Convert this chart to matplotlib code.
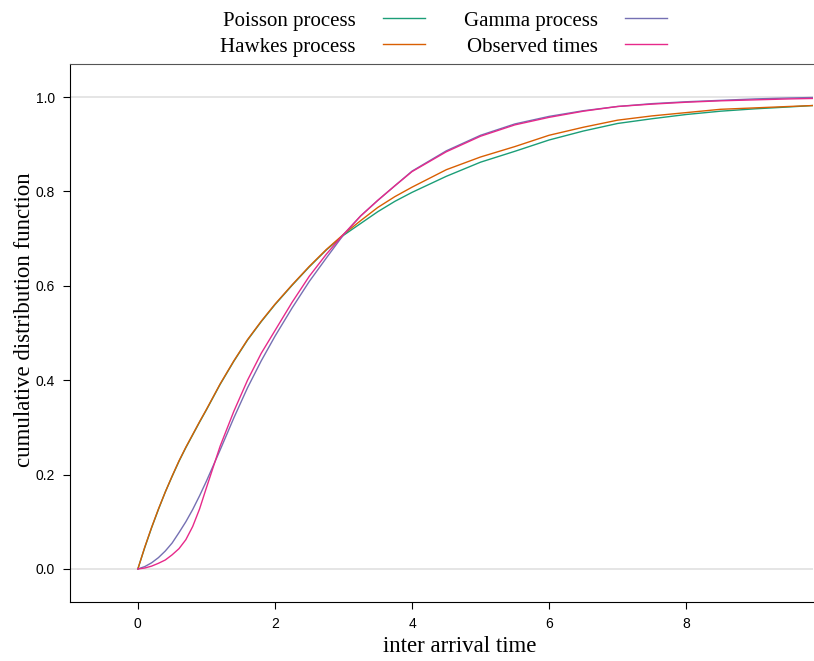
"""ECDF of inter arrival times: fitted processes vs observed times."""

import matplotlib

matplotlib.use("Agg")
import matplotlib.pyplot as plt

# inter arrival time grid
x_grid = [0, 0.1, 0.2, 0.3, 0.4, 0.5, 0.6, 0.7, 0.8, 0.9, 1.0, 1.2, 1.4, 1.6, 1.8,
          2.0, 2.25, 2.5, 2.75, 3.0, 3.25, 3.5, 3.75, 4.0, 4.5, 5.0, 5.5, 6.0, 6.5,
          7.0, 7.5, 8.0, 8.5, 9.0, 9.5, 9.85]

poisson_cdf = [0.0, 0.045, 0.087, 0.126, 0.163, 0.196, 0.228, 0.257, 0.284, 0.311,
               0.337, 0.391, 0.440, 0.485, 0.524, 0.560, 0.601, 0.640, 0.676, 0.707,
               0.732, 0.757, 0.779, 0.798, 0.832, 0.862, 0.885, 0.909, 0.928, 0.944,
               0.954, 0.963, 0.970, 0.975, 0.979, 0.982]
hawkes_cdf = [0.0, 0.046, 0.088, 0.127, 0.163, 0.197, 0.229, 0.258, 0.285, 0.312,
              0.338, 0.392, 0.441, 0.486, 0.525, 0.561, 0.602, 0.641, 0.677, 0.709,
              0.738, 0.766, 0.789, 0.809, 0.846, 0.873, 0.895, 0.919, 0.936, 0.951,
              0.960, 0.967, 0.974, 0.977, 0.980, 0.982]
gamma_cdf = [0.0, 0.005, 0.013, 0.024, 0.038, 0.055, 0.077, 0.100, 0.126, 0.155,
             0.186, 0.252, 0.320, 0.384, 0.441, 0.493, 0.553, 0.609, 0.659, 0.708,
             0.748, 0.781, 0.812, 0.843, 0.886, 0.919, 0.943, 0.959, 0.971, 0.980,
             0.986, 0.990, 0.993, 0.996, 0.998, 0.999]
observed_cdf = [0.0, 0.002, 0.006, 0.012, 0.019, 0.030, 0.043, 0.062, 0.090, 0.127,
                0.172, 0.260, 0.334, 0.400, 0.457, 0.505, 0.565, 0.620, 0.667, 0.709,
                0.748, 0.781, 0.812, 0.842, 0.884, 0.917, 0.941, 0.957, 0.970, 0.980,
                0.985, 0.989, 0.992, 0.994, 0.996, 0.997]

series = [
    ("Poisson process", poisson_cdf, "#1B9E77"),
    ("Hawkes process", hawkes_cdf, "#D95F02"),
    ("Gamma process", gamma_cdf, "#7570B3"),
    ("Observed times", observed_cdf, "#E7298A"),
]

x_ticks = [0, 2, 4, 6, 8]
y_ticks = [0.0, 0.2, 0.4, 0.6, 0.8, 1.0]

serif = "Liberation Serif"
sans = "Liberation Sans"

fig = plt.figure(figsize=(8.14, 6.61), dpi=100)
ax = fig.add_axes([70 / 814, 1 - 602 / 661, 743 / 814, 538 / 661])

for y in (0, 1):
    ax.axhline(y, color="#E3E3E3", lw=1.3, zorder=1)

lines = []
for label, cdf, color in series:
    (ln,) = ax.plot(x_grid, cdf, color=color, lw=1.0, label=label, zorder=2)
    lines.append(ln)

ax.set_xlim(-0.99, 9.85)
ax.set_ylim(-0.07, 1.07)
ax.set_xticks(x_ticks)
ax.set_yticks(y_ticks)
ax.set_xticklabels([str(t) for t in x_ticks], fontfamily=sans, fontsize=10)
ax.set_yticklabels([f"{t:.1f}" for t in y_ticks], fontfamily=sans, fontsize=10)
ax.tick_params(direction="out", length=5, width=0.8, color="black", pad=6)

ax.spines["right"].set_visible(False)
ax.spines["top"].set_color("#555555")
ax.spines["left"].set_color("black")
ax.spines["bottom"].set_color("black")

ax.set_xlabel("inter arrival time", fontfamily=serif, fontsize=16.5)
ax.set_ylabel("cumulative distribution function", fontfamily=serif, fontsize=16.5)
ax.xaxis.set_label_coords(0.525, -0.063)
ax.yaxis.set_label_coords(-0.047, 0.524)

# legend order: column 1 Poisson/Hawkes, column 2 Gamma/Observed
fig.legend(
    lines,
    [s[0] for s in series],
    loc="upper center",
    bbox_to_anchor=(0.545, 1.002),
    ncols=2,
    frameon=False,
    markerfirst=False,
    borderpad=0.1,
    handlelength=2.0,
    handletextpad=1.3,
    columnspacing=1.9,
    labelspacing=0.3,
    prop={"family": serif, "size": 15},
)

fig.savefig("out.png", dpi=100)
